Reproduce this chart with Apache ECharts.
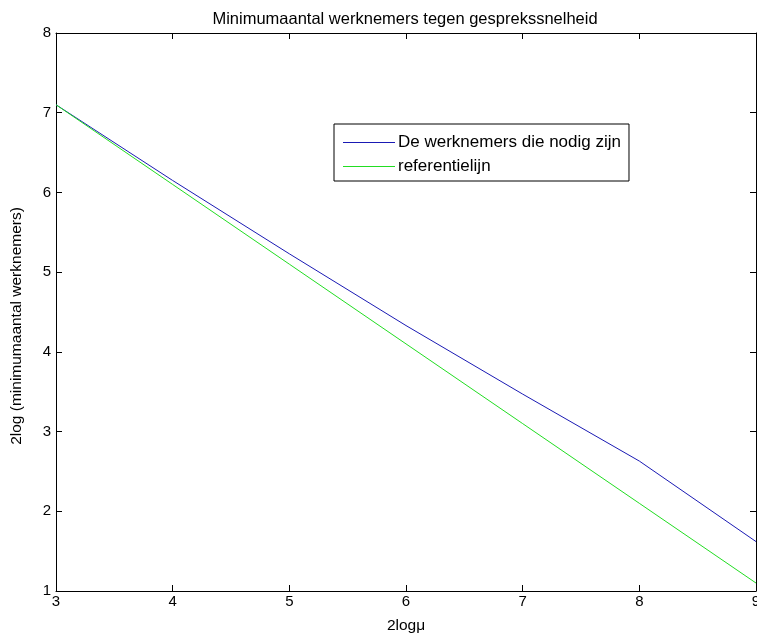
<!DOCTYPE html>
<html>
<head>
<meta charset="utf-8">
<script src="https://cdn.jsdelivr.net/npm/echarts@6/dist/echarts.min.js"></script>
<style>html,body{margin:0;padding:0;background:#fff;overflow:hidden;}#c{width:757px;height:637px;}</style>
</head>
<body>
<div id="c"></div>
<script>
var xValues = [3, 4, 5, 6, 7, 8, 9];
var workersNeeded = [7.1, 6.15, 5.23, 4.33, 3.47, 2.63, 1.62];
var referenceLine = [7.1, 6.1, 5.1, 4.1, 3.1, 2.1, 1.1];
var xTicks = [3, 4, 5, 6, 7, 8, 9];
var yTicks = [1, 2, 3, 4, 5, 6, 7, 8];

var FONT = 'Liberation Sans, Arial, sans-serif';
var chart = echarts.init(document.getElementById('c'), null, { width: 757, height: 637 });
function pairs(ys) { return xValues.map(function (x, i) { return [x, ys[i]]; }); }
var axisLine = { show: true, lineStyle: { color: '#000', width: 1 } };
var tick = { show: true, inside: true, length: 6, lineStyle: { color: '#000' } };
chart.setOption({
  backgroundColor: '#fff',
  animation: false,
  title: {
    text: 'Minimumaantal werknemers tegen gesprekssnelheid',
    left: 400, top: 6, textAlign: 'center',
    textStyle: { fontFamily: FONT, fontSize: 16.5, fontWeight: 'normal', color: '#000' }
  },
  grid: { left: 56, top: 33, width: 700, height: 558, containLabel: false, outerBoundsMode: 'none' },
  legend: {
    orient: 'vertical', left: 334, top: 124,
    padding: [10, 8, 6, 9],
    borderColor: '#000', borderWidth: 1, backgroundColor: '#fff',
    itemWidth: 52, itemHeight: 1, itemGap: 7, icon: 'rect',
    textStyle: { fontFamily: FONT, fontSize: 17, color: '#000', padding: [0, 0, 0, -2] },
    data: ['De werknemers die nodig zijn', 'referentielijn']
  },
  xAxis: [{
    type: 'value', min: 3, max: 9, interval: 1, position: 'bottom',
    name: '2log\u03bc', nameLocation: 'middle', nameGap: 27,
    nameTextStyle: { fontFamily: FONT, fontSize: 15.5, color: '#000' },
    axisLine: axisLine, axisTick: tick, splitLine: { show: false },
    axisLabel: { fontFamily: FONT, fontSize: 15, color: '#000', margin: 3, showMaxLabel: true }
  }, {
    type: 'value', min: 3, max: 9, interval: 1, position: 'top',
    axisLine: axisLine, axisTick: tick, splitLine: { show: false }, axisLabel: { show: false }
  }],
  yAxis: [{
    type: 'value', min: 1, max: 8, interval: 1, position: 'left',
    name: '2log (minimumaantal werknemers)', nameLocation: 'middle', nameGap: 31,
    nameTextStyle: { fontFamily: FONT, fontSize: 15.5, color: '#000', padding: [0, 28, 0, 0] },
    axisLine: axisLine, axisTick: tick, splitLine: { show: false },
    axisLabel: { fontFamily: FONT, fontSize: 15, color: '#000', margin: 5 }
  }, {
    type: 'value', min: 1, max: 8, interval: 1, position: 'right',
    axisLine: axisLine, axisTick: tick, splitLine: { show: false }, axisLabel: { show: false }
  }],
  series: [{
    name: 'De werknemers die nodig zijn', type: 'line', symbol: 'none',
    data: pairs(workersNeeded), lineStyle: { color: '#1a1ab4', width: 1 }, itemStyle: { color: '#1a1ab4' }
  }, {
    name: 'referentielijn', type: 'line', symbol: 'none',
    data: pairs(referenceLine), lineStyle: { color: '#22dd22', width: 1 }, itemStyle: { color: '#22dd22' }
  }]
});
</script>
</body>
</html>
